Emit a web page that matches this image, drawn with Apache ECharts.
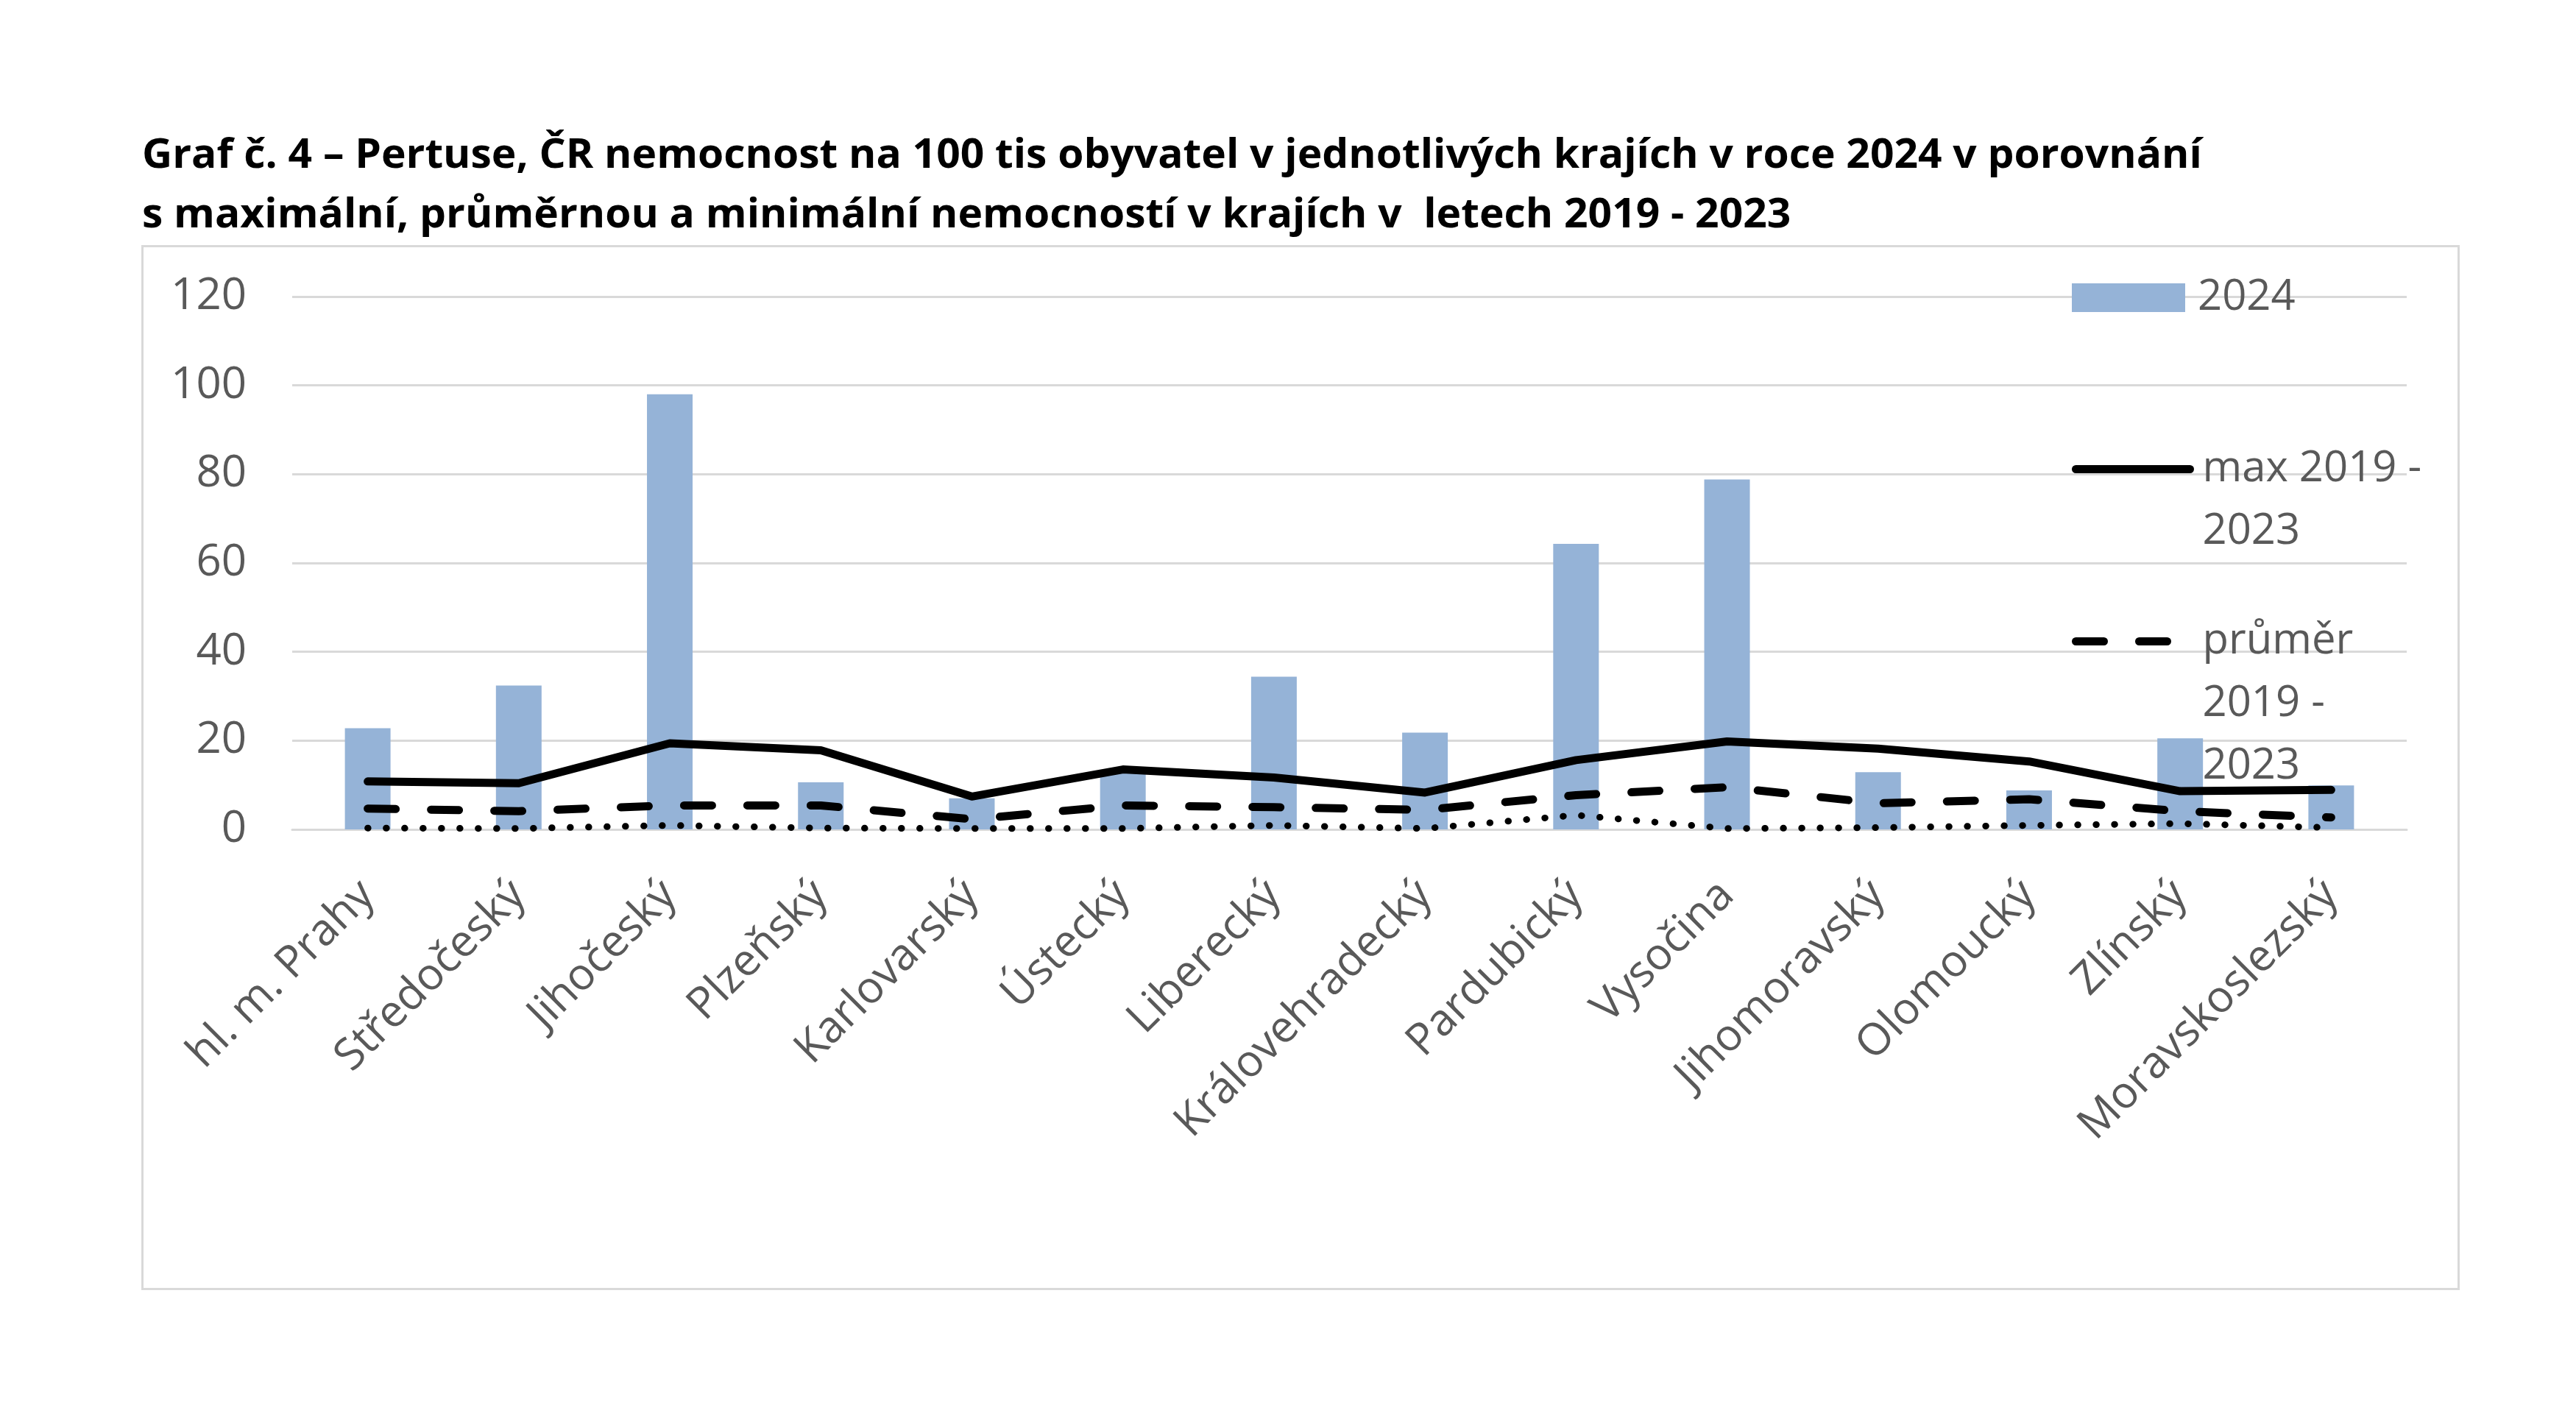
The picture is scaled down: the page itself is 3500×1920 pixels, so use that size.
<!DOCTYPE html>
<html>
<head>
<meta charset="utf-8">
<script src="https://cdn.jsdelivr.net/npm/echarts@6/dist/echarts.min.js"></script>
<style>
html,body{margin:0;padding:0;background:#fff;}
#chart{width:3500px;height:1920px;}
</style>
</head>
<body>
<div id="chart"></div>
<script>
const titleLines = [
  'Graf č. 4 – Pertuse, ČR nemocnost na 100 tis obyvatel v jednotlivých krajích v roce 2024 v porovnání',
  's maximální, průměrnou a minimální nemocností v krajích v  letech 2019 - 2023'
];
const categories = ['hl. m. Prahy','Středočeský','Jihočeský','Plzeňský','Karlovarský','Ústecký','Liberecký','Královehradecký','Pardubický','Vysočina','Jihomoravský','Olomoucký','Zlínský','Moravskoslezský'];
const values2024 = [22.8, 32.4, 98.0, 10.6, 7.0, 12.6, 34.4, 21.8, 64.3, 78.8, 12.9, 8.8, 20.5, 9.9];
const valuesMax = [10.8, 10.4, 19.4, 17.8, 7.4, 13.5, 11.7, 8.3, 15.6, 19.8, 18.2, 15.3, 8.6, 8.9];
const valuesAvg = [4.7, 4.1, 5.4, 5.4, 2.3, 5.4, 5.0, 4.4, 7.7, 9.5, 5.9, 6.8, 4.1, 2.7];
const valuesMin = [0.3, 0.2, 0.9, 0.3, 0.2, 0.2, 0.9, 0.2, 3.2, 0.2, 0.4, 0.9, 1.3, 0.4];
const seriesNames = ['2024', 'max 2019 - 2023', 'průměr 2019 - 2023', 'min 2019 - 2023'];
const legendLabels = ['2024', '\nmax 2019 -\n2023', '\n\nprůměr\n2019 -\n2023'];
const yTicks = {min: 0, max: 120, interval: 20};

const FONT = "'Open Sans', 'Noto Sans', sans-serif";
const TXT = '#595959';
const chart = echarts.init(document.getElementById('chart'), null, {renderer: 'canvas'});

const legendBase = {
  orient: 'vertical', padding: 0, selectedMode: false,
  itemStyle: {color: 'transparent', borderColor: 'transparent', borderWidth: 0},
  textStyle: {fontFamily: FONT, fontSize: 58, color: TXT, lineHeight: 85, padding: [0, 0, 0, 12]}
};

chart.setOption({
  backgroundColor: '#ffffff',
  animation: false,
  graphic: [{
    type: 'rect', left: 192, top: 333, z: -10,
    shape: {width: 3147, height: 1417},
    style: {fill: '#fff', stroke: '#d9d9d9', lineWidth: 3}
  }, {
    type: 'text', x: 193, y: 172, scaleX: 1.035, z: 10,
    style: {
      text: titleLines.join('\n'),
      fontFamily: "'Open Sans', sans-serif", fontWeight: 'bold', fontSize: 55,
      lineHeight: 81, fill: '#000', verticalAlign: 'top', align: 'left'
    }
  }],
  legend: [
    Object.assign({}, legendBase, {
      data: [{name: seriesNames[0], icon: 'rect'}], left: 2815, top: 362, itemWidth: 154, itemHeight: 39,
      itemStyle: {},
      formatter: () => legendLabels[0]
    }),
    Object.assign({}, legendBase, {
      data: [seriesNames[1]], left: 2815, top: 510, itemWidth: 155, itemHeight: 20,
      lineStyle: {width: 11, color: '#000', cap: 'round', type: 'solid'},
      formatter: () => legendLabels[1]
    }),
    Object.assign({}, legendBase, {
      data: [seriesNames[2]], left: 2815, top: 659, itemWidth: 155, itemHeight: 20,
      lineStyle: {width: 11, color: '#000', cap: 'round', type: [38, 48]},
      formatter: () => legendLabels[2]
    })
  ],
  grid: {left: 397, right: 230, top: 403, bottom: 793, containLabel: false},
  xAxis: {
    type: 'category', data: categories,
    axisLine: {show: true, lineStyle: {color: '#d9d9d9', width: 3}},
    axisTick: {show: false},
    axisLabel: {rotate: 45, margin: 80, interval: 0, fontFamily: FONT, fontSize: 60, color: TXT}
  },
  yAxis: {
    type: 'value', min: yTicks.min, max: yTicks.max, interval: yTicks.interval,
    axisLine: {show: false}, axisTick: {show: false},
    splitLine: {lineStyle: {color: '#d9d9d9', width: 3}},
    axisLabel: {fontFamily: FONT, fontSize: 60, color: TXT, margin: 62}
  },
  series: [
    {name: seriesNames[0], type: 'bar', data: values2024, barWidth: 62, itemStyle: {color: '#95b3d7'}, z: 1},
    {name: seriesNames[1], type: 'line', data: valuesMax, symbol: 'none', z: 3,
      itemStyle: {color: '#000'},
      lineStyle: {color: '#000', width: 11, cap: 'round', join: 'round'}},
    {name: seriesNames[2], type: 'line', data: valuesAvg, symbol: 'none', z: 3,
      itemStyle: {color: '#000'},
      lineStyle: {color: '#000', width: 11, cap: 'round', join: 'round', type: [38, 48]}},
    {name: seriesNames[3], type: 'line', data: valuesMin, symbol: 'none', z: 3,
      itemStyle: {color: '#000'},
      lineStyle: {color: '#000', width: 9, cap: 'round', join: 'round', type: [0.5, 24.5]}}
  ]
});
</script>
</body>
</html>
